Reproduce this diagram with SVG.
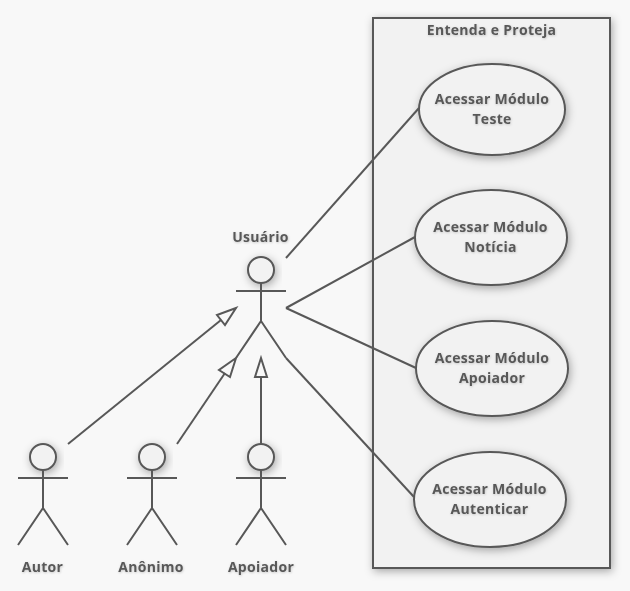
<svg xmlns="http://www.w3.org/2000/svg" width="630" height="591" viewBox="0 0 630 591">
<defs>
<filter id="sh" x="-30%" y="-30%" width="160%" height="160%"><feDropShadow dx="1.5" dy="2.5" stdDeviation="4.5" flood-color="#000" flood-opacity="0.32"/></filter>
<filter id="ts" x="-10%" y="-30%" width="120%" height="160%"><feDropShadow dx="0.5" dy="0.8" stdDeviation="0.8" flood-color="#000" flood-opacity="0.2"/></filter>
<g id="actor"><circle class="head" cx="0" cy="0" r="13"/><path class="ln" d="M0 13V51M-25 21H25M-25 88L0 51L25 88"/></g>
</defs>
<style>
.ln{fill:none;stroke:#585858;stroke-width:2}
.head{fill:#f2f2f2;stroke:#585858;stroke-width:2;filter:url(#sh)}
.uc{fill:#f2f2f2;stroke:#585858;stroke-width:2;filter:url(#sh)}
.tip{fill:none;stroke:#585858;stroke-width:2}
text{font-family:"Open Sans","Noto Sans","Liberation Sans",sans-serif;font-weight:700;font-size:14px;letter-spacing:.3px;fill:#585858;text-anchor:middle;filter:url(#ts)}
</style>
<rect width="630" height="591" fill="#f8f8f8"/>
<g id="boundary"><rect x="373" y="18" width="237" height="550" fill="#f2f2f2" stroke="#585858" stroke-width="2" filter="url(#sh)"/><text x="491.500" y="35">Entenda e Proteja</text></g>
<g id="uc-teste"><ellipse class="uc" cx="492" cy="109.500" rx="73" ry="45.500"/><text x="492" y="104">Acessar Módulo</text><text x="492" y="124">Teste</text></g>
<g id="uc-noticia"><ellipse class="uc" cx="491" cy="237.500" rx="76" ry="47.500"/><text x="490.500" y="232">Acessar Módulo</text><text x="490.500" y="252">Notícia</text></g>
<g id="uc-apoiador"><ellipse class="uc" cx="492" cy="368.500" rx="76" ry="47.500"/><text x="492" y="363">Acessar Módulo</text><text x="492" y="383">Apoiador</text></g>
<g id="uc-autenticar"><ellipse class="uc" cx="490" cy="499.500" rx="76" ry="47.500"/><text x="489.500" y="494">Acessar Módulo</text><text x="489.500" y="514">Autenticar</text></g>
<g id="actor-usuario"><use href="#actor" x="261" y="270"/><text x="260.500" y="242">Usuário</text></g>
<g id="actor-autor"><use href="#actor" x="43" y="457"/><text x="42.500" y="572">Autor</text></g>
<g id="actor-anonimo"><use href="#actor" x="152" y="457"/><text x="151" y="572">Anônimo</text></g>
<g id="actor-apoiador"><use href="#actor" x="261" y="457"/><text x="261" y="572">Apoiador</text></g>
<g id="connectors">
<path class="ln" d="M286 258L419 108"/>
<path class="ln" d="M286 308L415 237"/>
<path class="ln" d="M286 308L416 368"/>
<path class="ln" d="M286 358L414 497"/>
<path class="ln" d="M68 444L221 320"/><path class="tip" d="M236 308L217 315L225 325Z"/>
<path class="ln" d="M177 444L225 373"/><path class="tip" d="M236 358L219 370L230 377Z"/>
<path class="ln" d="M261 377V444"/><path class="tip" d="M261 358L255 377H267Z"/>
</g>
</svg>
